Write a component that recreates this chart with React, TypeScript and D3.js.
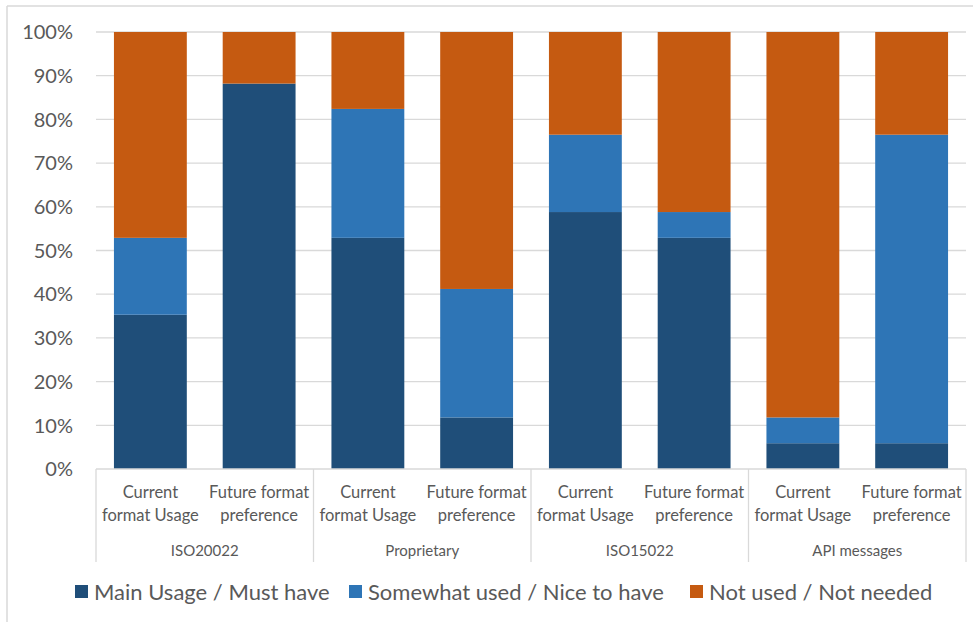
import React from "react";
import * as d3 from "d3";

const groups = ["ISO20022", "Proprietary", "ISO15022", "API messages"];
const subLabels = [["Current", "format Usage"], ["Future format", "preference"]];
const seriesNames = ["Main Usage / Must have", "Somewhat used / Nice to have", "Not used / Not needed"];
const seriesColors = ["#1F4E79", "#2E75B6", "#C55A11"];
// values in percent, 8 bars (group x sub)
const mainUsage = [35.3, 88.2, 52.9, 11.8, 58.8, 52.9, 5.9, 5.9];
const somewhatUsed = [17.6, 0, 29.5, 29.4, 17.7, 5.9, 5.9, 70.6];
const notUsed = [47.1, 11.8, 17.6, 58.8, 23.5, 41.2, 88.2, 23.5];
const yTicks = [0, 10, 20, 30, 40, 50, 60, 70, 80, 90, 100];

const W = 973, H = 622;
const M = { left: 96, right: 966, top: 32, bottom: 469 };
const FONT = "Lato, Carlito, Calibri, sans-serif";
const TXT = "#595959";

export default function App() {
  const n = mainUsage.length;
  const ids = d3.range(n);
  const x = d3.scaleBand<number>().domain(ids).range([M.left, M.right]).paddingInner(0.33).paddingOuter(0.165);
  const xStep = d3.scaleBand<number>().domain(ids).range([M.left, M.right]);
  const y = d3.scaleLinear().domain([0, 100]).range([M.bottom, M.top]);
  const rows = ids.map((i) => ({ i, s0: mainUsage[i], s1: somewhatUsed[i], s2: notUsed[i] }));
  const stack = d3.stack<any>().keys(["s0", "s1", "s2"])(rows);
  const groupW = (M.right - M.left) / groups.length;

  return (
    <svg width={W} height={H} style={{ position: "absolute", left: 0, top: 0 }} fontFamily={FONT}>
      <rect x={0} y={0} width={W} height={H} fill="#fff" />
      <line x1={7} x2={7} y1={6} y2={H} stroke="#D9D9D9" strokeWidth={1.5} />
      <line x1={7} x2={W} y1={6} y2={6} stroke="#D9D9D9" strokeWidth={1.5} />
      {yTicks.map((t) => (
        <g key={t}>
          {t > 0 && <line x1={M.left} x2={M.right} y1={y(t)} y2={y(t)} stroke="#D9D9D9" strokeWidth={1.3} />}
          <text x={73} y={y(t)} dy="0.36em" textAnchor="end" fontSize={20} fill={TXT}>{t}%</text>
        </g>
      ))}
      {stack.map((layer, si) => (
        <g key={si} fill={seriesColors[si]}>
          {layer.map((d, j) => (
            d[1] - d[0] > 0 ? <rect key={j} x={x(j)} width={x.bandwidth()} y={y(d[1])} height={y(d[0]) - y(d[1])} /> : null
          ))}
        </g>
      ))}
      <line x1={M.left} x2={M.right} y1={M.bottom} y2={M.bottom} stroke="#D9D9D9" strokeWidth={1.3} />
      {d3.range(groups.length + 1).map((g) => (
        <line key={g} x1={M.left + g * groupW} x2={M.left + g * groupW} y1={M.bottom} y2={562} stroke="#D9D9D9" strokeWidth={1.3} />
      ))}
      {ids.map((i) => {
        const cx = (xStep(i) as number) + xStep.bandwidth() / 2;
        const lbl = subLabels[i % 2];
        return (
          <text key={i} x={cx} textAnchor="middle" fontSize={16.5} fill={TXT}>
            <tspan x={cx} y={498}>{lbl[0]}</tspan>
            <tspan x={cx} y={521}>{lbl[1]}</tspan>
          </text>
        );
      })}
      {groups.map((g, gi) => (
        <text key={g} x={M.left + gi * groupW + groupW / 2} y={556} textAnchor="middle" fontSize={15} fill={TXT}>{g}</text>
      ))}
      {(() => {
        const pos = [75, 349, 690];
        return seriesNames.map((s, si) => (
          <g key={s}>
            <rect x={pos[si]} y={585} width={13} height={13} fill={seriesColors[si]} />
            <text x={pos[si] + 19} y={592} dy="0.36em" fontSize={22} fill={TXT}>{s}</text>
          </g>
        ));
      })()}
    </svg>
  );
}
